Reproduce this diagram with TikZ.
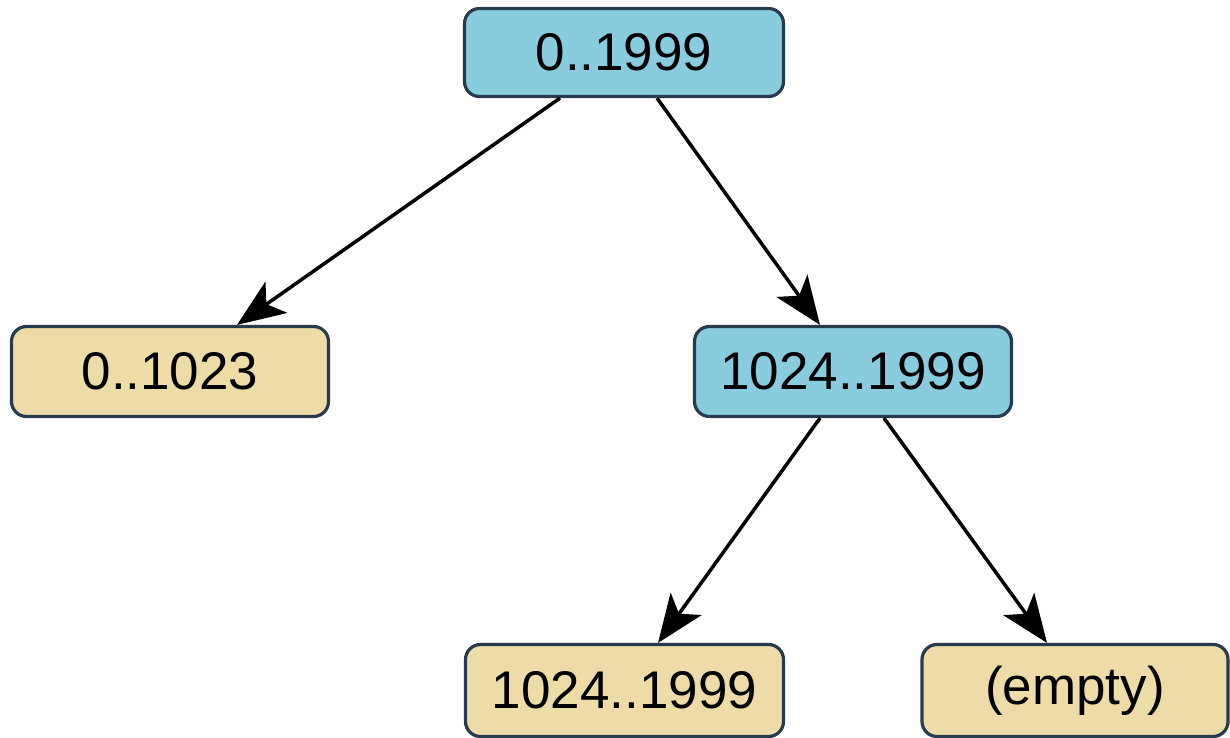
\documentclass[tikz,border=0pt]{standalone}
\usepackage{fontspec}
\setmainfont{Liberation Sans}
\usetikzlibrary{arrows.meta,calc}
\definecolor{bluefill}{RGB}{137,204,222}
\definecolor{tanfill}{RGB}{238,220,168}
\definecolor{edgedark}{RGB}{40,58,78}
\begin{document}
\begin{tikzpicture}[x=1pt,y=-1pt,
  box/.style={draw=edgedark,line width=3.2pt,rounded corners=15pt,inner sep=0pt,
    font=\fontsize{53}{60}\selectfont,text=black},
  inner/.style={box,fill=bluefill},
  leaf/.style={box,fill=tanfill},
  link/.style={line width=3.5pt,-{Stealth[length=48pt,width=38pt,inset=12pt]}}]
\useasboundingbox (0,0) rectangle (1230,737);
\node[inner,minimum width=319pt,minimum height=88pt] (root) at (624,52.5) {0..1999};
\node[leaf,minimum width=317pt,minimum height=90pt] (left) at (170,371.5) {0..1023};
\node[inner,minimum width=317pt,minimum height=90pt] (mid) at (853,371.5) {1024..1999};
\node[leaf,minimum width=318pt,minimum height=92pt] (bl) at (624.5,690.5) {1024..1999};
\node[leaf,minimum width=306pt,minimum height=92pt] (empty) at (1075,690.5) {(empty)};
\draw[link] ($(root.south)+(-64,0)$) -- ($(left.north)+(67,0)$);
\draw[link] ($(root.south)+(33,0)$) -- ($(mid.north)+(-33,0)$);
\draw[link] ($(mid.south)+(-33,0)$) -- ($(bl.north)+(33.5,0)$);
\draw[link] ($(mid.south)+(31,0)$) -- ($(empty.north)+(-28,0)$);
\end{tikzpicture}
\end{document}
